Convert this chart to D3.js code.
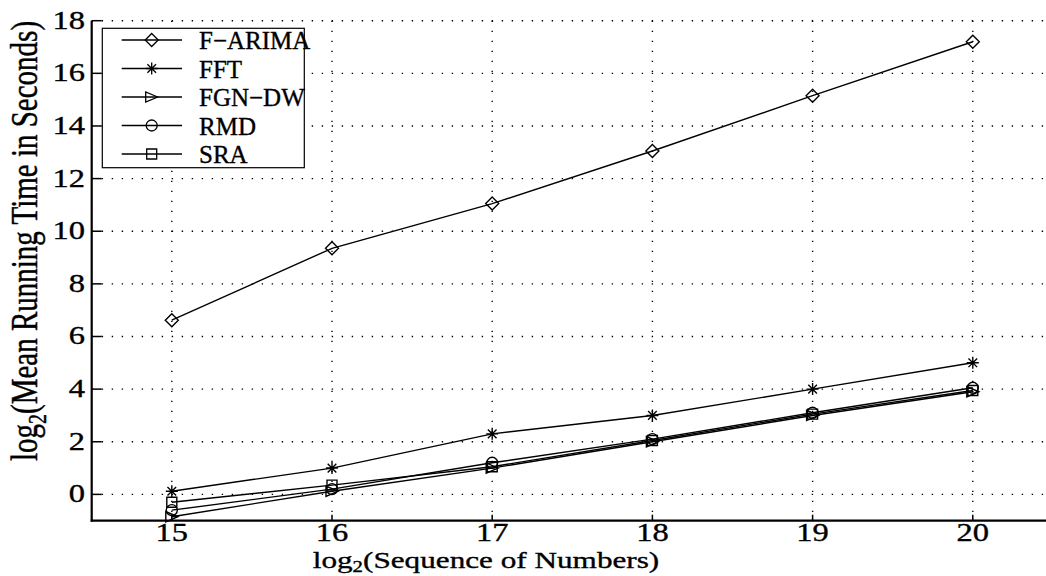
<!DOCTYPE html>
<html><head><meta charset="utf-8">
<script src="https://cdn.jsdelivr.net/npm/d3@7"></script>
<style>body{margin:0;background:#fff}svg{display:block}</style></head>
<body><svg id="c" width="1046" height="576"></svg>
<script>
const xValues = [15, 16, 17, 18, 19, 20];
const seriesNames = ["F\u2212ARIMA", "FFT", "FGN\u2212DW", "RMD", "SRA"];
const farima = [6.62, 9.35, 11.05, 13.05, 15.15, 17.2];
const fft = [0.12, 1.0, 2.3, 3.0, 4.0, 5.0];
const fgndw = [-0.85, 0.12, 1.0, 2.0, 3.0, 3.9];
const rmd = [-0.6, 0.2, 1.2, 2.1, 3.1, 4.05];
const sra = [-0.3, 0.35, 1.05, 2.05, 3.05, 3.95];
const xTicks = [15, 16, 17, 18, 19, 20];
const yTicks = [0, 2, 4, 6, 8, 10, 12, 14, 16, 18];
const markers = ["diamond", "star", "triangle", "circle", "square"];

const series = [farima, fft, fgndw, rmd, sra];
const svg = d3.select("#c");
const FONT = "Liberation Serif, Times New Roman, serif";
const SX = 1.3;
const TS = 0.35;

const x = d3.scaleLinear().domain([14.5, 20.5]).range([91.7, 1052.9]);
const y = d3.scaleLinear().domain([-1, 18]).range([520.7, 20.7]);

function markerPath(t) {
  const p = d3.path();
  if (t === "diamond") { const r = 6.5; p.moveTo(0,-r); p.lineTo(r,0); p.lineTo(0,r); p.lineTo(-r,0); p.closePath(); }
  else if (t === "star") { const r = 6, d = r*0.72; p.moveTo(-r,0); p.lineTo(r,0); p.moveTo(0,-r); p.lineTo(0,r); p.moveTo(-d,-d); p.lineTo(d,d); p.moveTo(-d,d); p.lineTo(d,-d); }
  else if (t === "triangle") { const r = 6; p.moveTo(r,0); p.lineTo(-r,-r*0.85); p.lineTo(-r,r*0.85); p.closePath(); }
  else if (t === "circle") { p.arc(0,0,5.5,0,2*Math.PI); }
  else if (t === "square") { const r = 5; p.rect(-r,-r,2*r,2*r); }
  return p.toString();
}

function txt(sel) {
  return sel.attr("font-family", FONT).attr("fill", "#000").attr("stroke", "#000").attr("stroke-width", TS);
}

// grid
const grid = svg.append("g").attr("stroke", "#000").attr("stroke-width", 1.4).attr("stroke-dasharray", "1.4,8.6");
grid.selectAll(".gx").data(xTicks).join("line")
  .attr("x1", d => x(d)).attr("x2", d => x(d)).attr("y1", y(18)).attr("y2", y(-1));
grid.selectAll(".gy").data(yTicks).join("line")
  .attr("x1", x(14.5)).attr("x2", 1046).attr("y1", d => y(d)).attr("y2", d => y(d));

// axes lines
svg.append("line").attr("x1", x(14.5)).attr("x2", x(14.5)).attr("y1", y(18)).attr("y2", y(-1) + 1)
  .attr("stroke", "#000").attr("stroke-width", 2.2);
svg.append("line").attr("x1", x(14.5) - 1).attr("x2", 1046).attr("y1", y(-1)).attr("y2", y(-1))
  .attr("stroke", "#000").attr("stroke-width", 2.2);
// ticks
svg.selectAll(".ty").data(yTicks).join("line")
  .attr("x1", x(14.5)).attr("x2", x(14.5) + 10).attr("y1", d => y(d)).attr("y2", d => y(d))
  .attr("stroke", "#000").attr("stroke-width", 1.5);
svg.selectAll(".tx").data(xTicks).join("line")
  .attr("x1", d => x(d)).attr("x2", d => x(d)).attr("y1", y(-1)).attr("y2", y(-1) - 6)
  .attr("stroke", "#000").attr("stroke-width", 1.5);

// tick labels
txt(svg.selectAll(".ly").data(yTicks).join("text"))
  .attr("transform", d => `translate(85,${y(d) + 8}) scale(${SX},1)`)
  .attr("text-anchor", "end").attr("font-size", 25).text(d => d);
txt(svg.selectAll(".lx").data(xTicks).join("text"))
  .attr("transform", d => `translate(${x(d)},541) scale(${SX},1)`)
  .attr("text-anchor", "middle").attr("font-size", 25).text(d => d);

// axis labels
const xl = txt(svg.append("text")).attr("transform", `translate(486,568) scale(${SX},1)`)
  .attr("text-anchor", "middle").attr("font-size", 24);
xl.append("tspan").text("log");
xl.append("tspan").attr("font-size", 16).attr("dy", 3.5).text("2");
xl.append("tspan").attr("dy", -3.5).text("(Sequence of Numbers)");

const yl = txt(svg.append("text")).attr("transform", `translate(37,241) rotate(-90) scale(1,${SX})`)
  .attr("text-anchor", "middle").attr("font-size", 29);
yl.append("tspan").text("log");
yl.append("tspan").attr("font-size", 20).attr("dy", 7).text("2");
yl.append("tspan").attr("dy", -7).text("(Mean Running Time in Seconds)");

// data lines
const line = d3.line().x((d, i) => x(xValues[i])).y(d => y(d));
series.forEach((s, k) => {
  svg.append("path").datum(s).attr("d", line).attr("fill", "none").attr("stroke", "#000").attr("stroke-width", 1.4);
  svg.selectAll(null).data(s).join("path")
    .attr("transform", (d, i) => `translate(${x(xValues[i])},${y(d)})`)
    .attr("d", markerPath(markers[k])).attr("fill", "none").attr("stroke", "#000").attr("stroke-width", 1.4);
});

// legend
const lg = svg.append("g");
lg.append("rect").attr("x", 102.3).attr("y", 28.3).attr("width", 202).attr("height", 139.4)
  .attr("fill", "#fff").attr("stroke", "#000").attr("stroke-width", 1.2);
seriesNames.forEach((n, k) => {
  const ry = 40 + k * 28.5;
  lg.append("line").attr("x1", 121.7).attr("x2", 182).attr("y1", ry).attr("y2", ry).attr("stroke", "#000").attr("stroke-width", 1.3);
  lg.append("path").attr("transform", `translate(151.7,${ry})`).attr("d", markerPath(markers[k]))
    .attr("fill", "none").attr("stroke", "#000").attr("stroke-width", 1.3);
  txt(lg.append("text")).attr("transform", `translate(199,${ry + 9})`)
    .attr("font-size", 25).text(n);
});
</script></body></html>
